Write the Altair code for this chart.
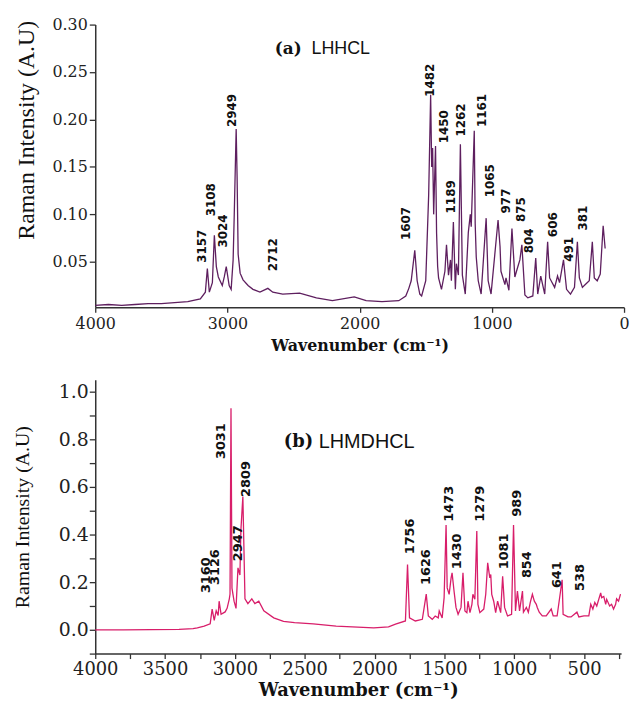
import altair as alt
import pandas as pd

# ---------------- (a) LHHCL spectrum ----------------
top_wn = [4000, 3900, 3800, 3700, 3600, 3500, 3400, 3300, 3205, 3167, 3152, 3137, 3114, 3099, 3084, 3069,
          3039, 3024, 3009, 2987, 2972, 2957, 2949, 2934, 2927, 2919, 2904, 2882, 2844, 2807, 2754, 2694,
          2657, 2582, 2454, 2327, 2206, 2041, 1951, 1831, 1704, 1651, 1628, 1610, 1583, 1565, 1545, 1531,
          1500, 1478, 1463, 1455, 1448, 1440, 1426, 1418, 1410, 1403, 1381, 1355, 1343, 1328, 1313, 1306,
          1291, 1276, 1268, 1253, 1238, 1223, 1201, 1178, 1163, 1156, 1133, 1126, 1118, 1103, 1081, 1043,
          1028, 1006, 953, 938, 931, 901, 893, 871, 848, 826, 803, 788, 773, 750, 728, 690, 668, 653, 630,
          600, 578, 563, 525, 503, 488, 458, 435, 405, 375, 353, 338, 315, 293, 263, 240, 225, 203, 180,
          158, 143]
top_int = [0.004, 0.005, 0.004, 0.005, 0.006, 0.006, 0.007, 0.008, 0.011, 0.018, 0.043, 0.018, 0.028, 0.078,
           0.045, 0.034, 0.025, 0.034, 0.045, 0.025, 0.021, 0.052, 0.097, 0.190, 0.140, 0.058, 0.038, 0.031,
           0.025, 0.021, 0.018, 0.022, 0.018, 0.016, 0.017, 0.012, 0.009, 0.013, 0.009, 0.008, 0.009, 0.014,
           0.022, 0.030, 0.062, 0.030, 0.016, 0.014, 0.030, 0.120, 0.226, 0.150, 0.170, 0.100, 0.172, 0.080,
           0.045, 0.033, 0.021, 0.040, 0.068, 0.036, 0.052, 0.030, 0.092, 0.021, 0.048, 0.036, 0.174, 0.036,
           0.016, 0.081, 0.100, 0.087, 0.188, 0.090, 0.055, 0.030, 0.016, 0.096, 0.030, 0.016, 0.094, 0.066,
           0.040, 0.026, 0.033, 0.020, 0.085, 0.034, 0.045, 0.052, 0.068, 0.015, 0.012, 0.014, 0.054, 0.016,
           0.035, 0.016, 0.071, 0.033, 0.023, 0.035, 0.028, 0.052, 0.021, 0.016, 0.023, 0.071, 0.033, 0.023,
           0.026, 0.030, 0.071, 0.033, 0.030, 0.037, 0.088, 0.064]

top_peak_text = ["3157", "3108", "3024", "2949", "2712", "1607", "1482", "1450", "1189", "1262",
                 "1161", "1065", "977", "875", "804", "606", "491", "381"]
top_peak_wn = [3189, 3122, 3032, 2964, 2657, 1651, 1471, 1358, 1306, 1231,
               1073, 1013, 893, 780, 720, 540, 413, 308]
top_peak_y = [0.049, 0.098, 0.065, 0.192, 0.040, 0.073, 0.224, 0.175, 0.101, 0.182,
              0.192, 0.118, 0.101, 0.092, 0.059, 0.076, 0.050, 0.083]

# ---------------- (b) LHMDHCL spectrum ----------------
bot_wn = [4000, 3800, 3600, 3400, 3300, 3269, 3220, 3177, 3163, 3148, 3134, 3120, 3113, 3099, 3070, 3056,
          3040, 3035, 3028, 3021, 3006, 2992, 2978, 2964, 2957, 2943, 2935, 2928, 2907, 2879, 2857, 2829,
          2793, 2722, 2652, 2573, 2439, 2275, 2006, 1900, 1850, 1779, 1764, 1750, 1708, 1658, 1630, 1615,
          1587, 1566, 1544, 1537, 1516, 1502, 1488, 1480, 1466, 1452, 1445, 1431, 1417, 1402, 1381, 1367,
          1353, 1339, 1331, 1317, 1303, 1296, 1282, 1268, 1260, 1246, 1218, 1204, 1190, 1175, 1168, 1161,
          1147, 1133, 1119, 1097, 1083, 1069, 1048, 1019, 1005, 991, 977, 962, 941, 934, 913, 899, 885,
          870, 856, 842, 835, 821, 799, 771, 735, 721, 693, 657, 650, 615, 593, 551, 537, 501, 466, 452,
          437, 423, 409, 381, 374, 359, 345, 338, 317, 303, 289, 274, 267, 253, 239]
bot_int = [0.0, 0.0, 0.001, 0.002, 0.005, 0.008, 0.015, 0.025, 0.087, 0.040, 0.080, 0.060, 0.120, 0.065,
           0.075, 0.090, 0.130, 0.150, 0.930, 0.175, 0.120, 0.090, 0.260, 0.230, 0.420, 0.560, 0.330, 0.130,
           0.110, 0.130, 0.110, 0.120, 0.080, 0.050, 0.035, 0.030, 0.025, 0.015, 0.008, 0.012, 0.024, 0.037,
           0.274, 0.050, 0.037, 0.044, 0.150, 0.058, 0.044, 0.058, 0.050, 0.079, 0.050, 0.135, 0.440, 0.176,
           0.149, 0.218, 0.239, 0.163, 0.094, 0.065, 0.094, 0.239, 0.079, 0.072, 0.120, 0.072, 0.107, 0.149,
           0.128, 0.415, 0.107, 0.072, 0.087, 0.149, 0.281, 0.218, 0.232, 0.149, 0.120, 0.072, 0.120, 0.072,
           0.225, 0.094, 0.058, 0.065, 0.440, 0.079, 0.163, 0.079, 0.163, 0.074, 0.094, 0.074, 0.115, 0.149,
           0.120, 0.107, 0.094, 0.074, 0.058, 0.058, 0.087, 0.058, 0.058, 0.210, 0.065, 0.054, 0.054, 0.074,
           0.054, 0.058, 0.058, 0.107, 0.087, 0.115, 0.100, 0.155, 0.135, 0.140, 0.107, 0.128, 0.100, 0.107,
           0.087, 0.107, 0.130, 0.120, 0.150]

bot_peak_text = ["3160", "3126", "3031", "2947", "2809", "1756", "1626", "1473", "1430", "1279",
                 "1081", "989", "854", "641", "538"]
bot_peak_wn = [3205, 3141, 3099, 2978, 2921, 1743, 1630, 1466, 1410, 1246,
               1076, 977, 906, 693, 529]
bot_peak_y = [0.154, 0.188, 0.717, 0.288, 0.558, 0.317, 0.188, 0.454, 0.254, 0.454,
              0.254, 0.475, 0.217, 0.175, 0.163]

# panel captions (anchor in data units)
cap_top = ["(a)", "LHHCL"]
cap_top_wn = [2642, 2364]
cap_top_y = [0.274, 0.274]
cap_bot = ["(b)", "LHMDHCL"]
cap_bot_wn = [2650, 2400]
cap_bot_y = [0.79, 0.79]

top_df = pd.DataFrame({"wn": top_wn, "I": top_int})
top_lab = pd.DataFrame({"wn": top_peak_wn, "I": top_peak_y, "t": top_peak_text})
bot_df = pd.DataFrame({"wn": bot_wn, "I": bot_int})
bot_lab = pd.DataFrame({"wn": bot_peak_wn, "I": bot_peak_y, "t": bot_peak_text})
top_cap = pd.DataFrame({"wn": cap_top_wn, "I": cap_top_y, "t": cap_top})
bot_cap = pd.DataFrame({"wn": cap_bot_wn, "I": cap_bot_y, "t": cap_bot})

AX = dict(grid=False, domainColor="#333333", domainWidth=1.5, tickColor="#333333", tickWidth=1.3,
          labelFont="DejaVu Serif", labelColor="#222222", labelOverlap=False, labelFlush=False,
          titleColor="#111111")

# ---- top panel encodings
x_top = alt.X("wn:Q", scale=alt.Scale(domain=[4000, 0], nice=False, zero=False),
              axis=alt.Axis(values=[4000, 3000, 2000, 1000, 0], format="d", title="Wavenumber (cm⁻¹)",
                            labelFontSize=16, tickSize=5, labelPadding=3,
                            titleFont="DejaVu Serif", titleFontWeight="bold", titleFontSize=16,
                            titlePadding=6, **AX))
y_top = alt.Y("I:Q", scale=alt.Scale(domain=[0.002, 0.30], nice=False, zero=False),
              axis=alt.Axis(values=[0.05, 0.10, 0.15, 0.20, 0.25, 0.30], format=".2f",
                            title="Raman Intensity (A.U)", labelFontSize=16, tickSize=6, labelPadding=2,
                            titleFont="Liberation Serif", titleFontWeight="normal", titleFontSize=24,
                            titlePadding=14, titleY=106, **AX))

top_line = alt.Chart(top_df).mark_line(color="#5e1f5f", strokeWidth=1.3).encode(x=x_top, y=y_top)
top_peaks = alt.Chart(top_lab).mark_text(angle=270, align="left", baseline="middle", font="DejaVu Sans",
                                         fontWeight="bold", fontSize=12, color="#111111").encode(
    x=x_top, y=y_top, text="t:N")
top_c1 = alt.Chart(top_cap.iloc[[0]]).mark_text(align="left", baseline="middle", font="DejaVu Serif",
                                                fontWeight="bold", fontSize=17, color="#111111").encode(
    x=x_top, y=y_top, text="t:N")
top_c2 = alt.Chart(top_cap.iloc[[1]]).mark_text(align="left", baseline="middle", font="Liberation Sans",
                                                fontSize=18, color="#111111").encode(
    x=x_top, y=y_top, text="t:N")
top = alt.layer(top_line, top_peaks, top_c1, top_c2).properties(width=533, height=285)

# ---- bottom panel encodings
x_minor = [4000 - 250 * i for i in range(16)]
y_minor = [round(-0.1 + 0.1 * i, 1) for i in range(12)]
x_bot = alt.X("wn:Q", scale=alt.Scale(domain=[4000, 235], nice=False, zero=False),
              axis=alt.Axis(values=x_minor, labelExpr="datum.value % 500 == 0 ? datum.label : ''",
                            format="d", title="Wavenumber (cm⁻¹)", labelFontSize=18, tickSize=5,
                            labelPadding=2, titleFont="DejaVu Serif", titleFontWeight="bold",
                            titleFontSize=18, titlePadding=3, **AX))
y_bot = alt.Y("I:Q", scale=alt.Scale(domain=[-0.1, 1.05], nice=False, zero=False),
              axis=alt.Axis(values=y_minor,
                            labelExpr="abs(round(datum.value*10)) % 2 == 0 ? format(datum.value, '.1f') : ''",
                            title="Raman Intensity (A.U)", labelFontSize=19, tickSize=6, labelPadding=1,
                            titleFont="Liberation Serif", titleFontWeight="normal", titleFontSize=20,
                            titlePadding=26, **AX))

bot_line = alt.Chart(bot_df).mark_line(color="#d81e6a", strokeWidth=1.3).encode(x=x_bot, y=y_bot)
bot_peaks = alt.Chart(bot_lab).mark_text(angle=270, align="left", baseline="middle", font="DejaVu Sans",
                                         fontWeight="bold", fontSize=13, color="#111111").encode(
    x=x_bot, y=y_bot, text="t:N")
bot_c1 = alt.Chart(bot_cap.iloc[[0]]).mark_text(align="left", baseline="middle", font="DejaVu Serif",
                                                fontWeight="bold", fontSize=18, color="#111111").encode(
    x=x_bot, y=y_bot, text="t:N")
bot_c2 = alt.Chart(bot_cap.iloc[[1]]).mark_text(align="left", baseline="middle", font="Liberation Sans",
                                                fontSize=20, color="#111111").encode(
    x=x_bot, y=y_bot, text="t:N")
bottom = alt.layer(bot_line, bot_peaks, bot_c1, bot_c2).properties(width=530, height=276)

chart = alt.concat(top, bottom, columns=1, spacing=27, align="none").properties(
    padding={"top": 14, "left": 12, "right": 0, "bottom": 0},
    background="white"
).configure_view(stroke=None)

chart.save("out.html", embed_options={"renderer": "svg", "actions": False})
